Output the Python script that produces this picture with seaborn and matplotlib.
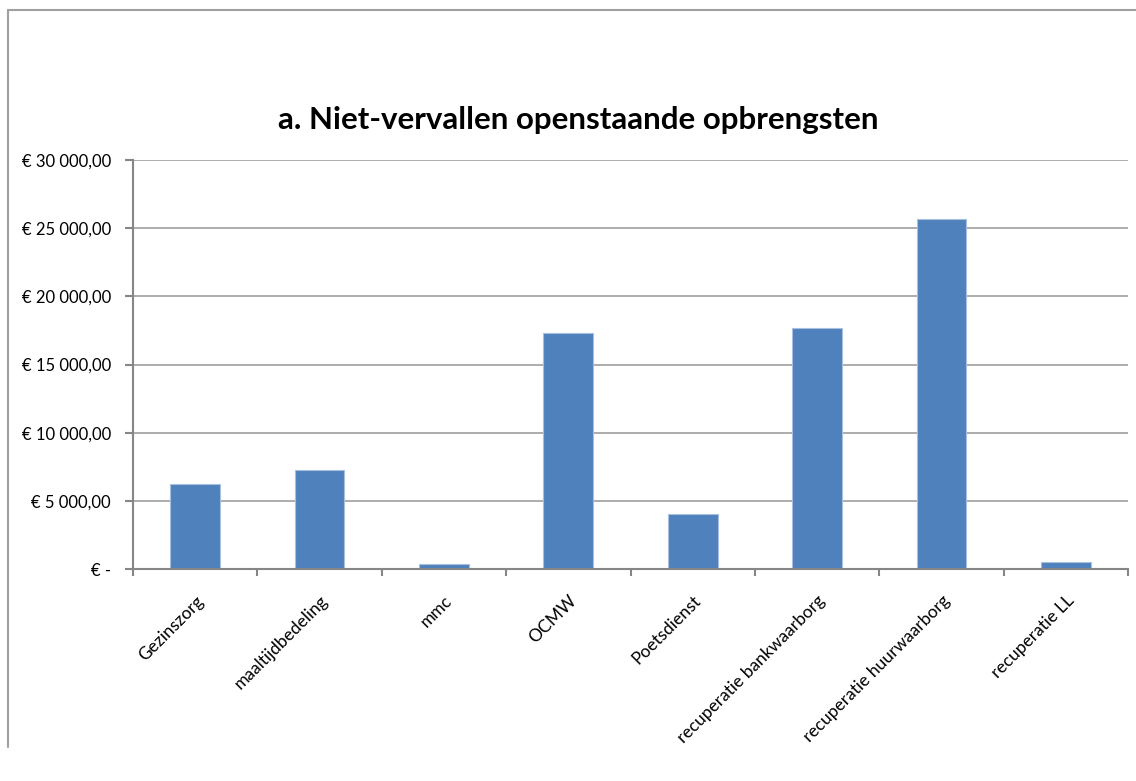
import matplotlib
matplotlib.use("Agg")
import matplotlib.pyplot as plt
import seaborn as sns
from matplotlib.ticker import FuncFormatter, MultipleLocator
from matplotlib.lines import Line2D

# -----------------------------
# Data
# -----------------------------
categories = [
    "Gezinszorg", "maaltijdbedeling", "mmc", "OCMW", "Poetsdienst",
    "recuperatie bankwaarborg", "recuperatie huurwaarborg", "recuperatie LL",
]
values = [6235, 7260, 370, 17310, 4035, 17680, 25650, 535]

title = "a. Niet-vervallen openstaande opbrengsten"

# -----------------------------
# Style
# -----------------------------
sns.set_theme(style="white")
plt.rcParams["font.family"] = ["Lato", "DejaVu Sans"]

bar_color = "#4F81BD"
grid_color = "#A6A6A6"
axis_color = "#868686"


def euro(v, pos):
    if v == 0:
        return "€ -"
    s = f"{v:,.2f}".replace(",", " ").replace(".", ",")
    return "€ " + s


fig = plt.figure(figsize=(11.36, 7.81), dpi=100)
ax = fig.add_axes([133 / 1136, 1 - 569 / 781, (1128 - 133) / 1136, (569 - 160) / 781])

sns.barplot(x=categories, y=values, color=bar_color, width=0.4,
            edgecolor="#A7C0DE", linewidth=0.8, saturation=1, ax=ax)

ax.set_ylim(0, 30000)
ax.set_xlim(-0.5, len(categories) - 0.5)
ax.yaxis.set_major_locator(MultipleLocator(5000))
ax.yaxis.set_major_formatter(FuncFormatter(euro))
ax.grid(axis="y", color=grid_color, linewidth=1.3)
ax.set_axisbelow(True)

for side in ["top", "right"]:
    ax.spines[side].set_visible(False)
for side in ["left", "bottom"]:
    ax.spines[side].set_color(axis_color)
    ax.spines[side].set_linewidth(1.5)

# category boundary ticks on x, labels at bar centres
ax.set_xticks([i - 0.5 for i in range(len(categories) + 1)], minor=False)
ax.set_xticklabels([])
ax.set_xticks(range(len(categories)), minor=True)
ax.set_xticklabels(categories, minor=True, rotation=45, ha="right",
                   rotation_mode="anchor", fontsize=12.5, color="black")
ax.tick_params(axis="x", which="major", bottom=True, length=5, width=1.5,
               color=axis_color)
ax.tick_params(axis="x", which="minor", bottom=False, length=0, pad=17)
ax.tick_params(axis="y", left=True, length=6, width=1.5, color=axis_color,
               labelsize=12, labelcolor="black", pad=10)

ax.set_xlabel("")
ax.set_ylabel("")

fig.text(578 / 1136, 1 - 120 / 781, title, ha="center", va="center",
         fontsize=22.5, fontweight="bold", color="black")

# chart border (top and left, as in the cropped screenshot)
fig.add_artist(Line2D([8 / 1136, 1], [1 - 10 / 781, 1 - 10 / 781],
                      transform=fig.transFigure, color="#A0A0A0", linewidth=1.5))
fig.add_artist(Line2D([8 / 1136, 8 / 1136], [1 - 10 / 781, 1 - 747 / 781],
                      transform=fig.transFigure, color="#A0A0A0", linewidth=1.5))

fig.savefig("out.png", dpi=100)
plt.close(fig)
